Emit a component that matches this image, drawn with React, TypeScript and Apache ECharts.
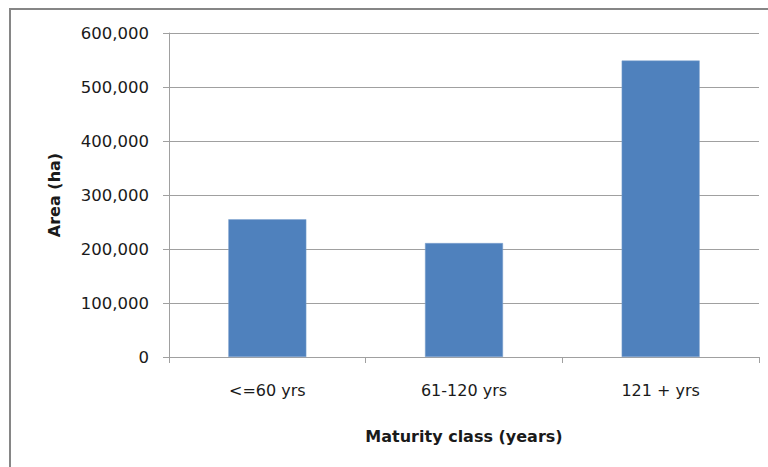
import React, { useEffect, useRef } from "react";
import * as echarts from "echarts";

const categories = ["<=60 yrs", "61-120 yrs", "121 + yrs"];
const areaValues = [255000, 211000, 549000];
const yMin = 0;
const yMax = 600000;
const yInterval = 100000;
const xTitle = "Maturity class (years)";
const yTitle = "Area (ha)";

const FONT = "DejaVu Sans";
const TEXT = "#1a1a1a";

export default function App() {
  const ref = useRef<HTMLDivElement>(null);
  useEffect(() => {
    if (!ref.current) return;
    const chart = echarts.init(ref.current, null, { renderer: "svg" });
    chart.setOption({
      animation: false,
      backgroundColor: "#ffffff",
      textStyle: { fontFamily: FONT },
      graphic: [
        {
          type: "rect",
          shape: { x: 10, y: 9, width: 800, height: 500 },
          style: { fill: "none", stroke: "#868686", lineWidth: 2 },
          silent: true,
        },
      ],
      grid: { left: 169, right: 9, top: 33, bottom: 110 },
      xAxis: {
        type: "category",
        data: categories,
        name: xTitle,
        nameLocation: "middle",
        nameGap: 71,
        nameTextStyle: { fontFamily: FONT, fontSize: 16, fontWeight: "bold", color: TEXT },
        axisLine: { lineStyle: { color: "#A0A0A0", width: 1 } },
        axisTick: { show: true, length: 6, lineStyle: { color: "#A0A0A0" } },
        axisLabel: { margin: 25, fontFamily: FONT, fontSize: 16, color: TEXT },
      },
      yAxis: {
        type: "value",
        min: yMin,
        max: yMax,
        interval: yInterval,
        name: yTitle,
        nameLocation: "middle",
        nameGap: 107,
        nameRotate: 90,
        nameTextStyle: { fontFamily: FONT, fontSize: 16, fontWeight: "bold", color: TEXT },
        axisLine: { show: true, lineStyle: { color: "#A0A0A0", width: 1 } },
        axisTick: { show: true, length: 6, lineStyle: { color: "#A0A0A0" } },
        splitLine: { show: true, lineStyle: { color: "#A0A0A0", width: 1 } },
        axisLabel: {
          margin: 20,
          fontFamily: FONT,
          fontSize: 16.5,
          color: TEXT,
          formatter: (v: number) => v.toLocaleString("en-US"),
        },
      },
      series: [
        {
          type: "bar",
          data: areaValues,
          barWidth: 78,
          itemStyle: { color: "#4F81BD", borderColor: "#7FA3CF", borderWidth: 0.5 },
        },
      ],
    });
    return () => chart.dispose();
  }, []);
  return (
    <div
      ref={ref}
      style={{ position: "fixed", left: 0, top: 0, width: 768, height: 467 }}
    />
  );
}
